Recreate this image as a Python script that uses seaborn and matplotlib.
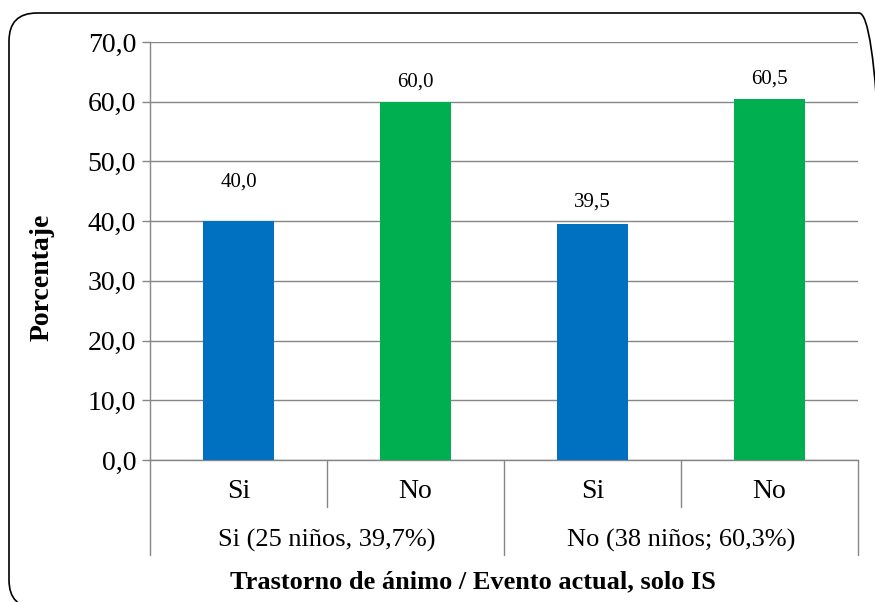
import matplotlib
matplotlib.use("Agg")
import matplotlib.pyplot as plt
from matplotlib.patches import FancyBboxPatch
from matplotlib.transforms import IdentityTransform
import seaborn as sns
import pandas as pd

# Data
groups = ["Si (25 niños, 39,7%)", "No (38 niños; 60,3%)"]
subcats = ["Si", "No", "Si", "No"]
values = [40.0, 60.0, 39.5, 60.5]
yticks = [0, 10, 20, 30, 40, 50, 60, 70]
ytick_labels = ["0,0", "10,0", "20,0", "30,0", "40,0", "50,0", "60,0", "70,0"]

sns.set_theme(style="white")
plt.rcParams["font.family"] = ["Liberation Serif", "DejaVu Serif"]
plt.rcParams["text.color"] = "black"
plt.rcParams["ytick.color"] = "black"

df = pd.DataFrame({
    "slot": [f"{g}|{s}" for g in groups for s in ["Si", "No"]],
    "sub": subcats,
    "pct": values,
})

fig = plt.figure(figsize=(8.75, 6.02), dpi=100)
W, H = 875, 602
ax = fig.add_axes([150 / W, 1 - 460 / H, (858 - 150) / W, (460 - 42) / H])

palette = {"Si": "#0070C0", "No": "#00B050"}
sns.barplot(data=df, x="slot", y="pct", hue="sub", palette=palette,
            width=0.4, dodge=False, legend=False, ax=ax, saturation=1,
            linewidth=0, zorder=3)

ax.set_ylim(0, 70)
ax.set_xlim(-0.5, 3.5)
ax.set_yticks(yticks)
ax.set_yticklabels(ytick_labels, fontsize=20)
ax.set_xticks([])
ax.set_xlabel("")
ax.set_ylabel("")

grid_c = "#868686"
ax.yaxis.grid(True, color=grid_c, linewidth=1.0, zorder=0)
for s in ["top", "right"]:
    ax.spines[s].set_visible(False)
for s in ["left", "bottom"]:
    ax.spines[s].set_color(grid_c)
    ax.spines[s].set_linewidth(1.0)
ax.tick_params(axis="y", length=6, width=1.0, color=grid_c, pad=4,
               left=True, labelcolor="black")

# Value labels above the bars (bars taken in left-to-right order)
bars = sorted(ax.patches, key=lambda p: p.get_x())
offsets = [21, 7.5, 9, 7.5]
for bar, v, off in zip(bars, values, offsets):
    ax.annotate(f"{v:.1f}".replace(".", ","),
                (bar.get_x() + bar.get_width() / 2, v),
                xytext=(0, off), textcoords="offset points",
                ha="center", va="bottom", fontsize=15)

# Two-level category axis
trans = ax.get_xaxis_transform()
def fy(py):
    return (460 - py) / (460 - 42)

for xb, depth in [(-0.5, 555), (0.5, 507), (1.5, 555), (2.5, 507), (3.5, 555)]:
    ax.plot([xb, xb], [0, fy(depth)], transform=trans, color=grid_c,
            linewidth=1.0, clip_on=False)

for i, s in enumerate(subcats):
    ax.text(i, fy(492), s, transform=trans, ha="center", va="center",
            fontsize=20)
for j, g in enumerate(groups):
    ax.text(2 * j + 0.5, fy(540), g, transform=trans, ha="center",
            va="center", fontsize=19)

fig.text(473 / W, 1 - 582 / H, "Trastorno de ánimo / Evento actual, solo IS",
         ha="center", va="center", fontsize=19, fontweight="bold")
fig.text(42 / W, 1 - 277 / H, "Porcentaje", rotation=90, ha="center",
         va="center", fontsize=20, fontweight="bold")

# Rounded frame around the chart (pixel coordinates)
frame = FancyBboxPatch((9, H - 608), 887 - 9, 608 - 13,
                       boxstyle="round,pad=0,rounding_size=28",
                       transform=IdentityTransform(), fill=False,
                       edgecolor="black", linewidth=1.2, clip_on=False)
fig.patches.append(frame)

fig.savefig("out.png", dpi=100)
